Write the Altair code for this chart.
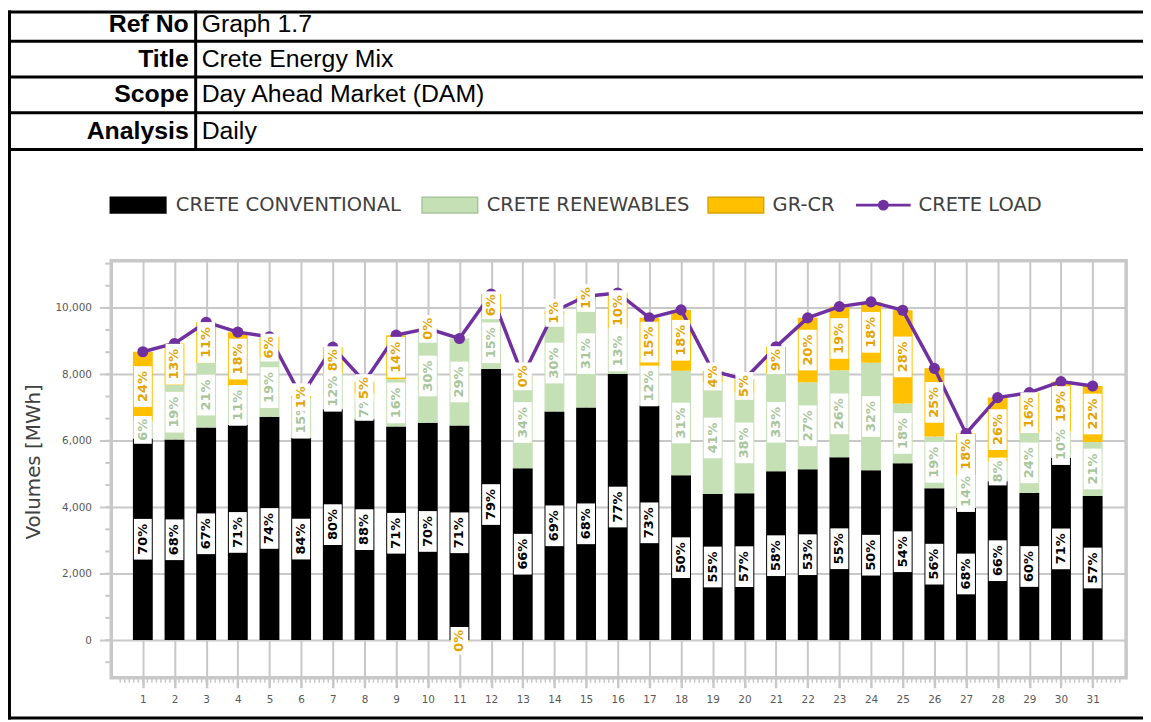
import altair as alt
import pandas as pd

# ---------------- data ----------------
days = list(range(1, 32))
load = [8680, 8930, 9570, 9270, 9130, 7340, 8820, 7780, 9180, 9380, 9080, 10420, 7950, 9900, 10350, 10450,
        9700, 9940, 8100, 7850, 8830, 9700, 10040, 10180, 9930, 8180, 6220, 7300, 7450, 7780, 7650]
conv = [6070, 6040, 6400, 6480, 6720, 6080, 6950, 6650, 6430, 6540, 6460, 8160, 5170, 6880, 7000, 8010,
        7060, 4960, 4400, 4420, 5080, 5140, 5500, 5110, 5320, 4570, 3980, 4780, 4430, 5490, 4340]
ren = [515, 1640, 1950, 1170, 1760, 1200, 1080, 740, 1420, 2820, 2620, 1580, 2760, 2920, 3245, 1380,
       1180, 3150, 3370, 3030, 2950, 2620, 2620, 3240, 1800, 1560, 980, 590, 1810, 790, 1620]
grcr = [2095, 1250, 1220, 1620, 650, 60, 790, 390, 1330, 20, -50, 680, 20, 100, 105, 1060,
        1460, 1830, 330, 400, 800, 1940, 1920, 1830, 2810, 2050, 1260, 1930, 1210, 1500, 1690]
conv_pct = [70, 68, 67, 71, 74, 84, 80, 88, 71, 70, 71, 79, 66, 69, 68, 77,
            73, 50, 55, 57, 58, 53, 55, 50, 54, 56, 68, 66, 60, 71, 57]
ren_pct = [6, 19, 21, 11, 19, 15, 12, 7, 16, 30, 29, 15, 34, 30, 31, 13,
           12, 31, 41, 38, 33, 27, 26, 32, 18, 19, 14, 8, 24, 10, 21]
gr_pct = [24, 13, 11, 18, 6, 1, 8, 5, 14, 0, 0, 6, 0, 1, 1, 10,
          15, 18, 4, 5, 9, 20, 19, 18, 28, 25, 18, 26, 16, 19, 22]
series_names = ["CRETE CONVENTIONAL", "CRETE RENEWABLES", "GR-CR", "CRETE LOAD"]
header_keys = ["Ref No", "Title", "Scope", "Analysis"]
header_vals = ["Graph 1.7", "Crete Energy Mix", "Day Ahead Market (DAM)", "Daily"]
y_ticks = [0, 2000, 4000, 6000, 8000, 10000]
y_title = "Volumes [MWh]"

# ---------------- styles ----------------
BAR_FILL = ["#000000", "#c5e0b4", "#ffc000"]
LAB_COL = ["#000000", "#a9c59b", "#e3a400"]
SWATCH_STROKE = ["#000000", "#a9c59b", "#d9a300"]
PURPLE = "#7030a0"
GRID = "#c8c8c8"
TXT = "#404040"

rows = []
for i, d in enumerate(days):
    for k, (vals, pcts) in enumerate(zip([conv, ren, grcr], [conv_pct, ren_pct, gr_pct])):
        lab = f"{pcts[i]}%"
        rows.append({"day": d, "series": series_names[k], "order": k, "vol": vals[i],
                     "lab": lab, "n": str(len(lab))})
bars_df = pd.DataFrame(rows)
load_df = pd.DataFrame({"day": days, "load": load})

xs = alt.Scale(domain=[0.16, 31.9], nice=False, zero=False)
ys = alt.Scale(domain=[-1136, 11420], nice=False, zero=False)
xaxis = alt.Axis(values=days, grid=True, gridColor=GRID, gridWidth=2, domain=False,
                 tickColor=GRID, tickWidth=2.5, tickSize=10, labelFont="DejaVu Sans",
                 labelFontSize=10.5, labelColor="#595959", labelPadding=7, labelAngle=0)
yaxis = alt.Axis(values=y_ticks, format=",.0f", grid=True, gridColor=GRID, gridWidth=2, domain=False,
                 tickColor=GRID, tickWidth=2, tickSize=12, labelFont="DejaVu Sans",
                 labelFontSize=10.5, labelColor="#595959", labelPadding=8,
                 titleFont="DejaVu Sans", titleFontSize=20, titleFontWeight="normal",
                 titleColor=TXT, titleX=-78, titleY=202, titleAlign="center",
                 titleBaseline="middle")


def X(f):
    return alt.X(f, type="quantitative", scale=xs, axis=xaxis, title=None)


def Y(f):
    return alt.Y(f, type="quantitative", scale=ys, axis=yaxis, title=y_title)


base = (alt.Chart(bars_df)
        .transform_stack(stack="vol", groupby=["day"], as_=["v0", "v1"],
                         sort=[alt.SortField("order", "ascending")])
        .transform_calculate(mid="(datum.v0 + datum.v1) / 2"))

bars = base.mark_bar(size=20).encode(
    x=X("day"), y=Y("v0"), y2=alt.Y2("v1"),
    color=alt.Color("series:N", scale=alt.Scale(domain=series_names[:3], range=BAR_FILL), legend=None))

line = alt.Chart(load_df).mark_line(color=PURPLE, strokeWidth=3.5).encode(x=X("day"), y=Y("load"))
dots = alt.Chart(load_df).mark_circle(color=PURPLE, size=125, opacity=1).encode(x=X("day"), y=Y("load"))

P2 = "M-0.45,-0.7H0.45V0.7H-0.45Z"
P3 = "M-0.45,-1.025H0.45V1.025H-0.45Z"
label_layers = []
for k in range(3):
    sub = base.transform_filter(f"datum.order == {k}")
    box = sub.mark_point(filled=True, color="white", opacity=1, size=1600, strokeWidth=0).encode(
        x=X("day"), y=Y("mid"),
        shape=alt.Shape("n:N", scale=alt.Scale(domain=["2", "3"], range=[P2, P3]), legend=None))
    txt = sub.mark_text(angle=270, font="DejaVu Sans", fontWeight="bold", fontSize=13,
                        color=LAB_COL[k], align="center", baseline="middle").encode(
        x=X("day"), y=Y("mid"), text="lab:N")
    label_layers += [box, txt]

# minor ticks
xminor = (alt.Chart(alt.sequence(1, 224, 1, as_="k"))
          .transform_calculate(xm="datum.k / 7")
          .transform_filter("datum.xm > 0.17 && datum.xm < 31.89")
          .mark_rule(color=GRID, strokeWidth=1.5)
          .encode(x=X("xm"), y=alt.value(421), y2=alt.value(425)))
yminor = (alt.Chart(alt.sequence(-1, 18, 1, as_="k"))
          .transform_calculate(ym="datum.k * 2000 / 3")
          .mark_rule(color=GRID, strokeWidth=2)
          .encode(y=Y("ym"), x=alt.value(-6), x2=alt.value(0)))

one = alt.Data(values=[{"i": 0}])

# header table frame (plot-relative pixel layout)
frame_lines = [(-104, -250.5, 1039, -250.5), (-104, -221, 1039, -221), (-104, -185, 1039, -185),
               (-104, -149, 1039, -149), (-104, -112, 1039, -112), (-102.5, -252, -102.5, 462),
               (-104, 460.5, 1039, 460.5), (85, -252, 85, -112)]
deco = []
for (x1, y1, x2, y2) in frame_lines:
    deco.append(alt.Chart(one).mark_rule(color="black", strokeWidth=3).encode(
        x=alt.value(x1), y=alt.value(y1), x2=alt.value(x2), y2=alt.value(y2)))

row_y = [-238, -203, -168, -131]
for i in range(4):
    deco.append(alt.Chart(one).mark_text(text=header_keys[i], font="Liberation Sans", fontSize=25,
                                         fontWeight="bold", align="right", baseline="middle",
                                         color="black").encode(x=alt.value(78), y=alt.value(row_y[i])))
    deco.append(alt.Chart(one).mark_text(text=header_vals[i], font="Liberation Sans", fontSize=25,
                                         align="left", baseline="middle",
                                         color="black").encode(x=alt.value(91), y=alt.value(row_y[i])))

# legend
sw_x = [(-1, 55), (313, 369), (601, 657)]
txt_x = [65, 378, 666, 813]
for k in range(3):
    deco.append(alt.Chart(one).mark_rect(fill=BAR_FILL[k], stroke=SWATCH_STROKE[k], strokeWidth=1.5).encode(
        x=alt.value(sw_x[k][0]), x2=alt.value(sw_x[k][1]), y=alt.value(-64), y2=alt.value(-48)))
deco.append(alt.Chart(one).mark_rule(color=PURPLE, strokeWidth=3).encode(
    x=alt.value(750), x2=alt.value(805), y=alt.value(-56)))
deco.append(alt.Chart(one).mark_point(filled=True, color=PURPLE, opacity=1, size=120, shape="circle").encode(
    x=alt.value(777.5), y=alt.value(-56)))
for k in range(4):
    deco.append(alt.Chart(one).mark_text(text=series_names[k], font="DejaVu Sans", fontSize=19.6,
                                         align="left", baseline="middle", color=TXT).encode(
        x=alt.value(txt_x[k]), y=alt.value(-56)))

chart = alt.layer(xminor, yminor, bars, line, dots, *label_layers, *deco).properties(
    width=1022, height=420,
    autosize=alt.AutoSizeParams(type="none"),
    padding={"left": 104, "top": 252, "right": 17, "bottom": 42},
    background="white",
).configure_view(stroke=GRID, strokeWidth=3.5)

chart.save("out.html", embed_options={"renderer": "svg", "actions": False})
